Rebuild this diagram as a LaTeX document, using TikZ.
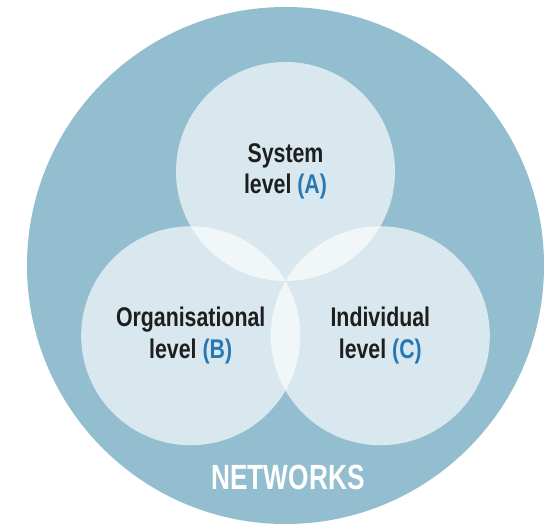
\documentclass[tikz,border=0pt]{standalone}
\usepackage{fontspec}
\setmainfont{Liberation Sans}
\newfontfamily\lvlfont[FakeStretch=0.79]{Liberation Sans}
\newfontfamily\netfont[FakeStretch=0.75]{Liberation Sans}
\usetikzlibrary{calc}
\usetikzlibrary{positioning}

\definecolor{netblue}{HTML}{93BECF}
\definecolor{tagblue}{HTML}{2878B4}
\definecolor{labelgrey}{HTML}{1E1E1E}
\newcommand{\lvltag}[1]{\textcolor{tagblue}{#1}}

\tikzset{
  levelcircle/.style={circle, minimum size=219pt, inner sep=0pt,
    fill=white, fill opacity=0.65, text opacity=1, text=labelgrey,
    align=center, font=\lvlfont\bfseries\fontsize{27}{31.7}\selectfont},
  netcircle/.style={circle, minimum size=517pt, inner sep=0pt, fill=netblue},
}

\begin{document}
\begin{tikzpicture}[x=1pt,y=1pt]
        \useasboundingbox (0,0) rectangle (549,527);
        \fill[white] (0,0) rectangle (549,527); % Background

        % Outer circle
        \node[netcircle] (net) at (285.5,261.5) {};
        \node[text=white, anchor=base, font=\netfont\bfseries\fontsize{35}{40}\selectfont]
            (netlabel) at (288,37) {NETWORKS};

        % Three levels, touching in one point
        \coordinate (meet) at (285.5,246);
        \def\rad{109.5} % Radius of a level circle

        \node[levelcircle] (system) at ([shift={(90:\rad)}]meet) {System\\level \lvltag{(A)}};
        \node[levelcircle] (organisation) at ([shift={(210:\rad)}]meet) {Organisational\\level \lvltag{(B)}};
        \node[levelcircle] (individual) at ([shift={(330:\rad)}]meet) {Individual\\level \lvltag{(C)}};
    \end{tikzpicture}
\end{document}
